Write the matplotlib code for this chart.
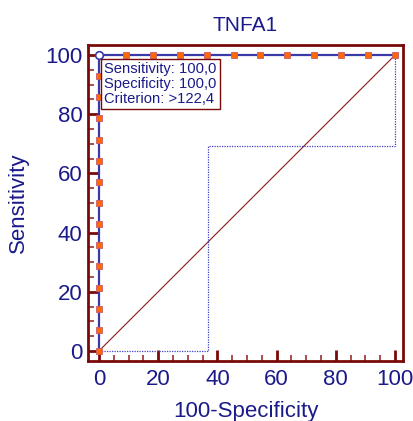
"""ROC curve for TNFA1 (MedCalc style)."""

import matplotlib

matplotlib.use("Agg")
import matplotlib.pyplot as plt
from matplotlib.ticker import MultipleLocator

plt.rcParams["font.family"] = ["Liberation Sans", "DejaVu Sans"]

# ROC points: vertical run up the y axis, then along the top
roc_fpr = [0, 0, 0, 0, 0, 0, 0, 0, 0, 0, 0, 0, 0, 0, 0,
           9.1, 18.2, 27.3, 36.4, 45.5, 54.5, 63.6, 72.7, 81.8, 90.9, 100]
roc_sens = [0, 7.1, 14.3, 21.4, 28.6, 35.7, 42.9, 50.0, 57.1, 64.3, 71.4, 78.6, 85.7, 92.9, 100,
            100, 100, 100, 100, 100, 100, 100, 100, 100, 100, 100]

# lower confidence bound (dotted step line)
ci_fpr = [0, 36.8, 36.8, 100, 100]
ci_sens = [0, 0, 69.3, 69.3, 100]

# optimal criterion point
crit_fpr = [0]
crit_sens = [100]

title = "TNFA1"
info_lines = ["Sensitivity: 100,0", "Specificity: 100,0", "Criterion: >122,4"]

navy = "#1a1a8a"
darkred = "#7a0a0a"
roc_blue = "#3a3aa8"

fig = plt.figure(figsize=(4.14, 4.21), dpi=100)
ax = fig.add_axes([0.2126, 0.1425, 0.7609, 0.7506])

# reference diagonal
ax.plot([0, 100], [0, 100], color="#8a1a1a", linewidth=0.8, zorder=2)

# confidence bound
ax.plot(ci_fpr, ci_sens, color="#4040c0", linestyle=(0, (1, 1)), linewidth=0.9, zorder=2)

# ROC curve
ax.plot(roc_fpr, roc_sens, color=roc_blue, linewidth=1.6, zorder=3)
ax.plot(roc_fpr, roc_sens, "s", color="#ff6a00", markeredgecolor="#c85a6a",
        markeredgewidth=0.6, markersize=5, zorder=4)
ax.plot(crit_fpr, crit_sens, "o", color="white", markeredgecolor=roc_blue,
        markeredgewidth=1.2, markersize=5.5, zorder=5)

ax.set_xlim(-3.7, 102.7)
ax.set_ylim(-3.4, 103.4)

ax.xaxis.set_major_locator(MultipleLocator(20))
ax.xaxis.set_minor_locator(MultipleLocator(5))
ax.yaxis.set_major_locator(MultipleLocator(20))
ax.yaxis.set_minor_locator(MultipleLocator(5))

ax.tick_params(axis="both", which="major", direction="in", length=8, width=2,
               color=darkred, labelcolor=navy, labelsize=16)
ax.tick_params(axis="both", which="minor", direction="in", length=4.5, width=1.2,
               color="#9a3030")
ax.tick_params(axis="x", which="major", pad=6)
ax.tick_params(axis="y", which="major", pad=4)

for spine in ax.spines.values():
    spine.set_color(darkred)
    spine.set_linewidth(2)

ax.set_title(title, color=navy, fontsize=15, pad=10)
ax.set_xlabel("100-Specificity", color=navy, fontsize=16, labelpad=8)
ax.set_ylabel("Sensitivity", color=navy, fontsize=16, labelpad=12)

ax.text(1.8, 97.6, "\n".join(info_lines), ha="left", va="top", fontsize=10.6,
        color=navy, linespacing=1.1, zorder=6,
        bbox=dict(boxstyle="square,pad=0.2", fc="white", ec=darkred, linewidth=1))

fig.savefig("out.png", dpi=100)
